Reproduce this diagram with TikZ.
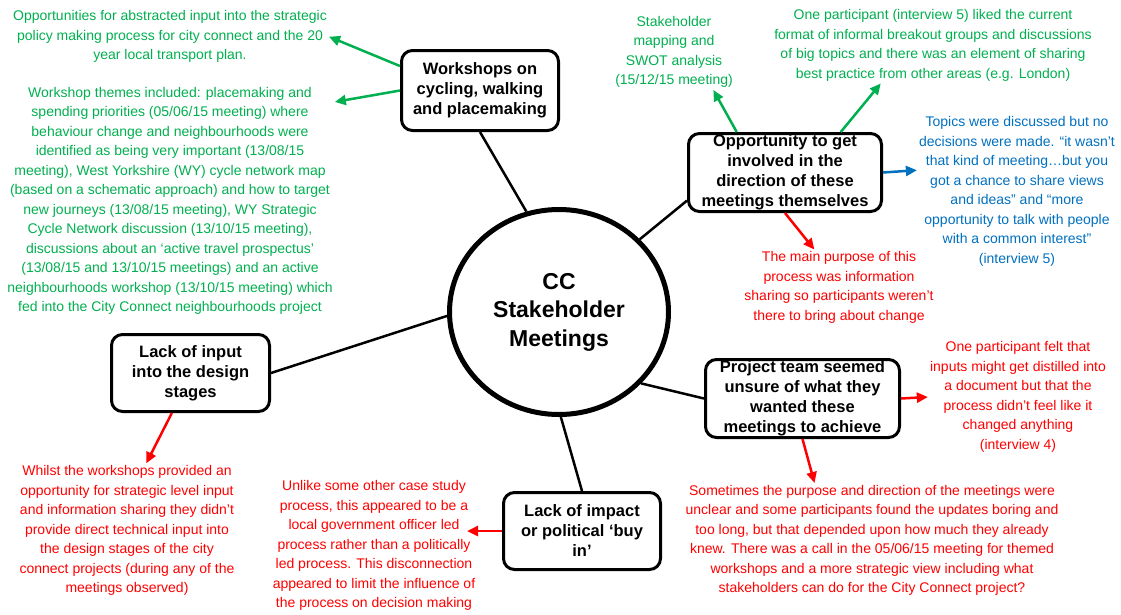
\documentclass[tikz,border=0pt]{standalone}
\usepackage{fontspec}
\setmainfont{Liberation Sans}
\usetikzlibrary{arrows.meta,shapes.geometric}
\definecolor{ccgreen}{RGB}{0,176,80}
\definecolor{ccred}{RGB}{255,0,0}
\definecolor{ccblue}{RGB}{0,112,192}

\begin{document}
\begin{tikzpicture}[x=1pt,y=-1pt,>={Triangle[length=11pt,width=10pt]},
 box/.style={draw,line width=3pt,rounded corners=11pt,align=center,inner sep=1pt,
  font=\fontsize{16.5}{20}\selectfont\bfseries,execute at begin node=\rule{0pt}{16pt}},
 hub/.style={draw,ellipse,line width=5pt,align=center,
  font=\fontsize{23}{28.5}\selectfont\bfseries},
 note/.style={align=center,inner sep=2pt,font=\fontsize{14}{19.5}\selectfont},
 link/.style={line width=2.5pt},
 arr/.style={->,line width=2.5pt}]
 \fill[white] (0,0) rectangle (1121,614);
 \useasboundingbox (0,0) rectangle (1121,614);

 \node[hub,minimum width=219pt,minimum height=205pt] (cc) at (559,312) {CC\\Stakeholder\\Meetings};

 \node[box,minimum width=157pt,minimum height=80pt] (ws) at (480,90.5)
 {Workshops on\\cycling, walking\\and placemaking};
 \node[box,minimum width=193pt,minimum height=78pt] (opp) at (785,172.5)
 {Opportunity to get\\involved in the\\direction of these\\meetings themselves};
 \node[box,minimum width=194pt,minimum height=78pt] (proj) at (802.5,398.5)
 {Project team seemed\\unsure of what they\\wanted these\\meetings to achieve};
 \node[box,minimum width=158pt,minimum height=77pt] (input) at (190.5,373)
 {Lack of input\\into the design\\stages};
 \node[box,minimum width=157pt,minimum height=77pt] (impact) at (582,531)
 {Lack of impact\\or political ‘buy\\in’};

 \node[note,text=ccgreen] (wsA) at (170,36.7)
 {Opportunities for abstracted input into the strategic\\policy making process for city connect and the 20\\year local transport plan.};
 \node[note,text=ccgreen] (wsB) at (170,201)
 {Workshop themes included: placemaking and\\spending priorities (05/06/15 meeting) where\\behaviour change and neighbourhoods were\\identified as being very important (13/08/15\\meeting), West Yorkshire (WY) cycle network map\\(based on a schematic approach) and how to target\\new journeys (13/08/15 meeting), WY Strategic\\Cycle Network discussion (13/10/15 meeting),\\discussions about an ‘active travel prospectus’\\(13/08/15 and 13/10/15 meetings) and an active\\neighbourhoods workshop (13/10/15 meeting) which\\fed into the City Connect neighbourhoods project};
 \node[note,text=ccgreen] (stake) at (674,52)
 {Stakeholder\\mapping and\\SWOT analysis\\(15/12/15 meeting)};
 \node[note,text=ccgreen] (oneP) at (933,45.5)
 {One participant (interview 5) liked the current\\format of informal breakout groups and discussions\\of big topics and there was an element of sharing\\best practice from other areas (e.g. London)};
 \node[note,text=ccblue] (topics) at (1017,191.5)
 {Topics were discussed but no\\decisions were made. “it wasn’t\\that kind of meeting…but you\\got a chance to share views\\and ideas” and “more\\opportunity to talk with people\\with a common interest”\\(interview 5)};
 \node[note,text=ccred] (mainP) at (839,287.5)
 {The main purpose of this\\process was information\\sharing so participants weren’t\\there to bring about change};
 \node[note,text=ccred] (felt) at (1018,397)
 {One participant felt that\\inputs might get distilled into\\a document but that the\\process didn’t feel like it\\changed anything\\(interview 4)};
 \node[note,text=ccred] (sometimes) at (872,540.5)
 {Sometimes the purpose and direction of the meetings were\\unclear and some participants found the updates boring and\\too long, but that depended upon how much they already\\knew. There was a call in the 05/06/15 meeting for themed\\workshops and a more strategic view including what\\stakeholders can do for the City Connect project?};
 \node[note,text=ccred] (whilst) at (127,530.5)
 {Whilst the workshops provided an\\opportunity for strategic level input\\and information sharing they didn’t\\provide direct technical input into\\the design stages of the city\\connect projects (during any of the\\meetings observed)};
 \node[note,text=ccred] (unlike) at (374,545.5)
 {Unlike some other case study\\process, this appeared to be a\\local government officer led\\process rather than a politically\\led process. This disconnection\\appeared to limit the influence of\\the process on decision making};
 \coordinate (unlikeTip) at (467,531);

 \draw[link] (ws.south)--(cc.108); \draw[link] (opp.196)--(cc.42);
 \draw[link] (proj.west)--(cc.-41); \draw[link] (impact.north)--(cc.271);
 \draw[link] (input.east)--(cc.182);

 \draw[arr,ccgreen] (ws.163)--(wsA.east); \draw[arr,ccgreen] (ws.west)--(wsB.31);
 \draw[arr,ccgreen] (opp.140)--(stake.-44); \draw[arr,ccgreen] (opp.36)--(oneP.216);
 \draw[arr,ccblue] (opp.east)--(topics.168); \draw[arr,ccred] (opp.south)--(mainP.123);
 \draw[arr,ccred] (proj.east)--(felt.west); \draw[arr,ccred] (proj.south)--(sometimes.135);
 \draw[arr,ccred] (impact.west)--(unlikeTip); \draw[arr,ccred] (input.245)--(whilst.74);
\end{tikzpicture}
\end{document}
